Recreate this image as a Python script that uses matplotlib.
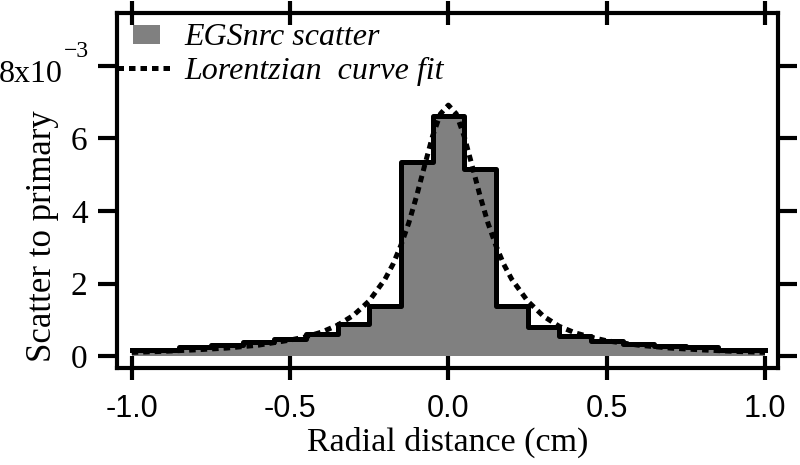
import numpy as np
import matplotlib
matplotlib.use('Agg')
import matplotlib.pyplot as plt
from matplotlib.patches import Rectangle
from matplotlib.legend_handler import HandlerPatch

# histogram bins (centres, cm) and scatter-to-primary values (x1e-3)
bin_centres = [-1.0, -0.9, -0.8, -0.7, -0.6, -0.5, -0.4, -0.3, -0.2, -0.1, 0.0,
               0.1, 0.2, 0.3, 0.4, 0.5, 0.6, 0.7, 0.8, 0.9, 1.0]
egs_scatter = [0.17, 0.18, 0.25, 0.31, 0.38, 0.46, 0.60, 0.87, 1.37, 5.35, 6.62,
               5.17, 1.38, 0.80, 0.55, 0.42, 0.34, 0.28, 0.25, 0.17, 0.16]

# Lorentzian fit, points (x1e-3)
fit_x = [-1.0, -0.9, -0.8, -0.7, -0.6, -0.5, -0.45, -0.4, -0.35, -0.3, -0.25,
         -0.2, -0.175, -0.15, -0.125, -0.1, -0.075, -0.05, -0.025, 0.0,
         0.025, 0.05, 0.075, 0.1, 0.125, 0.15, 0.175, 0.2, 0.25, 0.3, 0.35,
         0.4, 0.45, 0.5, 0.6, 0.7, 0.8, 0.9, 1.0]
fit_y = [0.10, 0.13, 0.17, 0.22, 0.30, 0.44, 0.53, 0.66, 0.85, 1.12, 1.52,
         2.12, 2.53, 3.05, 3.67, 4.42, 5.25, 6.06, 6.68, 6.92,
         6.68, 6.06, 5.25, 4.42, 3.67, 3.05, 2.53, 2.12, 1.52, 1.10, 0.82,
         0.64, 0.52, 0.42, 0.30, 0.22, 0.17, 0.13, 0.10]

xticks = [-1.0, -0.5, 0.0, 0.5, 1.0]
xticklabels = ['-1.0', '-0.5', '0.0', '0.5', '1.0']
yticks = [0, 2, 4, 6, 8]
yticklabels = ['0', '2', '4', '6', '']   # top one is written by hand below
top_label, top_exp = '8x10', '\u22123'

serif = 'Liberation Serif'
fill_grey = '#808080'


def small_square(legend, orig_handle, xdescent, ydescent, width, height, fontsize):
    # legend swatch is a small square, narrower than the dotted-line handle
    return Rectangle((-xdescent + 0.29 * width, -ydescent + 0.02 * height),
                     0.49 * width, 0.85 * height)


fig = plt.figure(figsize=(8, 4.65), dpi=100)
ax = fig.add_axes([0.146, 0.2086, 0.8265, 0.7634])

ax.fill_between(bin_centres, 0, egs_scatter, step='mid', color=fill_grey,
                linewidth=0)
ax.step(bin_centres, egs_scatter, where='mid', color='black', lw=3.6)
fit_line, = ax.plot(fit_x, fit_y, color='black', lw=3.6,
                    linestyle=(0, (1.3, 1.0)))

ax.set_xlim(-1.047, 1.041)
ax.set_ylim(-0.33, 9.46)

ax.set_xticks(xticks)
ax.set_xticklabels(xticklabels, fontfamily='Liberation Sans', fontsize=22)
ax.set_yticks(yticks)
ax.set_yticklabels(yticklabels, fontfamily=serif, fontsize=24)

ax.tick_params(axis='x', direction='inout', length=17, width=3, top=True,
               bottom=True, pad=10)
ax.tick_params(axis='y', direction='out', length=14, width=3, left=True,
               right=True, pad=7)
for sp in ax.spines.values():
    sp.set_linewidth(3)

# "8x10^-3" on the top tick, with a big superscript like the original
ytr = ax.get_yaxis_transform()
ax.text(-0.0817, 7.56, top_label, transform=ytr, ha='right', va='baseline',
        fontfamily=serif, fontsize=23, clip_on=False)
ax.text(-0.0805, 8.25, top_exp, transform=ytr, ha='left', va='baseline',
        fontfamily=serif, fontsize=17, clip_on=False)

ax.set_xlabel('Radial distance (cm)', fontfamily=serif, fontsize=24.5)
ax.xaxis.set_label_coords(0.5, -0.165)
ax.set_ylabel('Scatter to primary', fontfamily=serif, fontsize=25)
ax.yaxis.set_label_coords(-0.087, 0.372)

swatch = Rectangle((0, 0), 1, 1, facecolor=fill_grey, edgecolor='none')
leg = ax.legend([swatch, fit_line], ['EGSnrc scatter', 'Lorentzian  curve fit'],
                loc='upper left', bbox_to_anchor=(0.0, 0.974), frameon=False,
                handlelength=1.72, handletextpad=0.4, borderaxespad=0.0,
                borderpad=0.0, labelspacing=0.15,
                handler_map={Rectangle: HandlerPatch(patch_func=small_square)},
                prop={'family': serif, 'style': 'italic', 'size': 23})

fig.savefig('out.png', dpi=100)
